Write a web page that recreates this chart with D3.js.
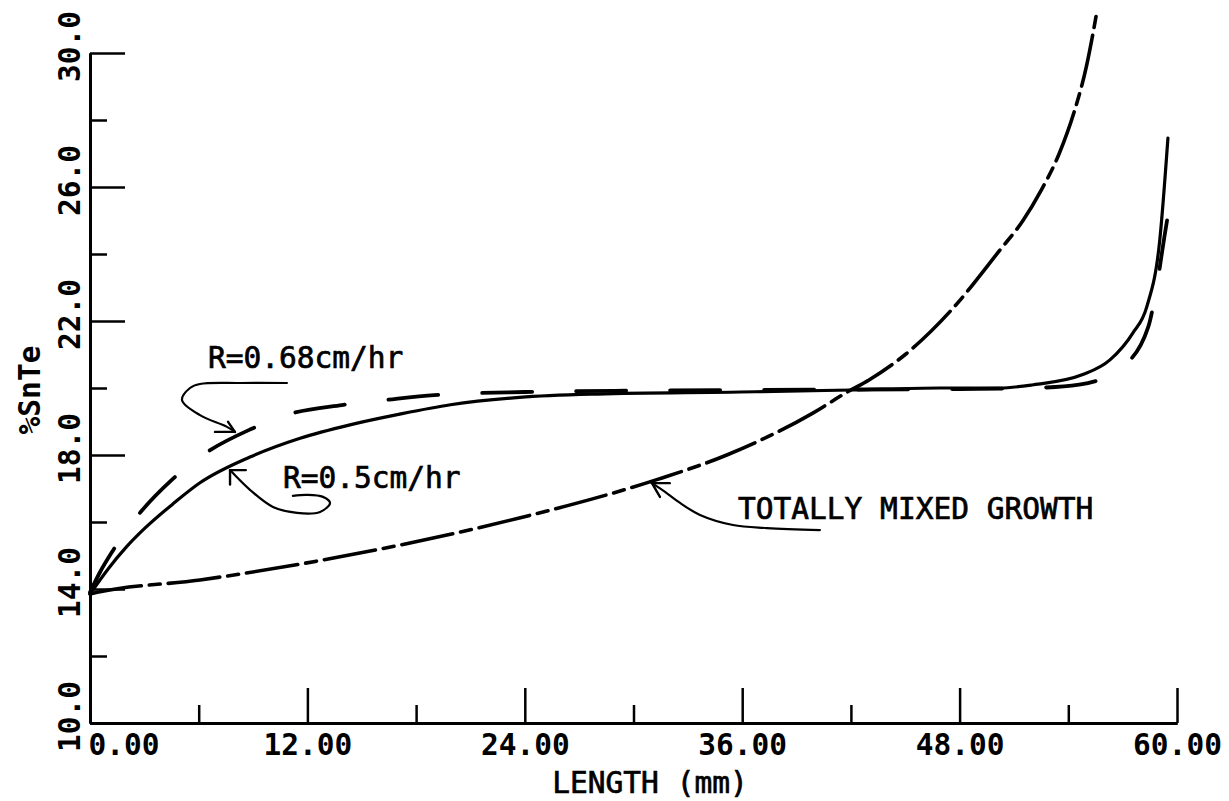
<!DOCTYPE html>
<html><head><meta charset="utf-8">
<script src="https://cdn.jsdelivr.net/npm/d3@7"></script>
<style>
html,body{margin:0;padding:0;background:#fff;}
svg{display:block;background:#fff;}
text{font-family:"DejaVu Sans Mono","Liberation Mono",monospace;fill:#000;font-variant-numeric:slashed-zero;}
</style></head><body>
<svg id="chart" width="1229" height="801"></svg>
<script>
// ---- tick definitions ----
const xMajorTicks = [0, 12, 24, 36, 48, 60];
const xMajorLabels = ["0.00", "12.00", "24.00", "36.00", "48.00", "60.00"];
const xMinorTicks = [6, 18, 30, 42, 54];
const yMajorTicks = [10, 14, 18, 22, 26, 30];
const yMajorLabels = ["10.0", "14.0", "18.0", "22.0", "26.0", "30.0"];
const yMinorTicks = [12, 16, 20, 24, 28];
const xTitle = "LENGTH (mm)";
const yTitle = "%SnTe";

// ---- series: R = 0.5 cm/hr (solid) ----
const lenR05  = [0, 1, 2, 3, 4.6, 6.07, 8.83, 11.6, 14.35, 17.1, 19.9, 23.7, 28, 35.9, 42, 46.9, 50.2, 52.0, 54.8, 56.3, 57.56, 58.33, 59.05, 59.5];
const snteR05 = [13.85, 14.6, 15.25, 15.8, 16.55, 17.17, 17.94, 18.5, 18.9, 19.22, 19.5, 19.72, 19.82, 19.88, 19.94, 20.0, 20.0, 20.09, 20.4, 20.84, 21.64, 22.42, 24.42, 27.46];

// ---- series: R = 0.68 cm/hr (long dashes) ----
const lenR068  = [0, 0.55, 1.27, 2.65, 4.5, 6.5, 8.83, 11.2, 13.9, 16.3, 19.0, 24, 30, 40, 48, 52, 54.6, 56.95, 58.4, 58.9, 59.3, 59.45];
const snteR068 = [13.9, 14.5, 15.15, 16.2, 17.25, 18.1, 18.76, 19.25, 19.49, 19.64, 19.79, 19.88, 19.92, 19.95, 19.97, 20.0, 20.1, 20.63, 21.8, 23.1, 24.5, 25.0];

// ---- series: totally mixed growth (dash-dot) ----
const lenMixed  = [0, 0.4, 6.07, 13.8, 23.7, 31.2, 35.15, 39.9, 41.8, 43.0, 45, 47.5, 50.2, 51.5, 52.5, 53.5, 54.3, 55.0, 55.6];
const snteMixed = [13.85, 13.9, 14.27, 14.96, 16.12, 17.25, 18.0, 19.25, 19.88, 20.24, 21.0, 22.3, 24.1, 25.0, 25.9, 27.0, 28.2, 29.6, 31.3];

// ---- annotations (data coordinates) ----
const annoLabels = ["R=0.68cm/hr", "R=0.5cm/hr", "TOTALLY MIXED GROWTH"];
const annoAt = [[6.51, 20.6], [10.65, 17.01], [35.77, 16.09]];
const arrowR068X = [10.87, 8.28, 6.07, 5.52, 5.08, 6.07, 7.56, 8.0];
const arrowR068Y = [20.15, 20.15, 20.12, 20.0, 19.64, 19.19, 18.84, 18.69];
const barbR068 = [[6.9, 18.69], [7.62, 18.99]];
const arrowR05X = [11.2, 11.98, 12.86, 13.25, 12.7, 11.43, 10.1, 8.83, 7.73];
const arrowR05Y = [16.78, 16.81, 16.75, 16.57, 16.3, 16.27, 16.45, 16.96, 17.55];
const barbR05 = [[7.73, 17.12], [8.6, 17.55]];
const arrowMixX = [40.29, 37.37, 35.49, 33.67, 32.57, 31.74, 31.02];
const arrowMixY = [15.76, 15.82, 15.91, 16.21, 16.57, 16.9, 17.16];
const barbMix = [[32.0, 17.16], [31.46, 16.75]];

// ---- chart ----
const svg = d3.select("#chart");
const x = d3.scaleLinear().domain([0, 60]).range([90, 1177]);
const y = d3.scaleLinear().domain([10, 30]).range([723, 53]);
const FS = 29.5;

function styleAxis(g, w) {
  g.attr("font-family", null).attr("font-size", null);
  g.select(".domain").attr("stroke", "#000").attr("stroke-width", 3);
  g.selectAll(".tick line").attr("stroke", "#000").attr("stroke-width", w);
}

// x axis minor
const gxMinor = svg.append("g").attr("transform", `translate(0,${y(10)})`)
  .call(d3.axisBottom(x).tickValues(xMinorTicks).tickSize(-18).tickSizeOuter(0).tickFormat(""));
styleAxis(gxMinor, 2.5);
// x axis major
const gxMajor = svg.append("g").attr("transform", `translate(0,${y(10)})`)
  .call(d3.axisBottom(x).tickValues(xMajorTicks).tickSize(-35).tickSizeOuter(0).tickPadding(11)
    .tickFormat((d, i) => xMajorLabels[i]));
styleAxis(gxMajor, 2.5);
gxMajor.selectAll(".tick text").attr("font-size", FS).attr("font-weight", "bold")
  .attr("text-anchor", (d, i) => i === 0 ? "start" : "middle")
  .attr("x", (d, i) => i === 0 ? -2 : 0);

// y axis minor
const gyMinor = svg.append("g").attr("transform", `translate(${x(0)},0)`)
  .call(d3.axisLeft(y).tickValues(yMinorTicks).tickSize(-17).tickSizeOuter(0).tickFormat(""));
styleAxis(gyMinor, 2.5);
// y axis major
const gyMajor = svg.append("g").attr("transform", `translate(${x(0)},0)`)
  .call(d3.axisLeft(y).tickValues(yMajorTicks).tickSize(-35).tickSizeOuter(0)
    .tickFormat((d, i) => yMajorLabels[i]));
styleAxis(gyMajor, 2.5);
gyMajor.selectAll(".tick text")
  .attr("x", 0).attr("y", 0).attr("dy", 0)
  .attr("transform", "translate(-10,-7) rotate(-90)")
  .attr("text-anchor", "middle").attr("font-size", FS).attr("font-weight", "bold");

// axis titles
svg.append("text").attr("transform", "translate(40,390) rotate(-90)")
  .attr("text-anchor", "middle").attr("font-size", FS).attr("font-weight", "bold").text(yTitle);
svg.append("text").attr("x", 650).attr("y", 793)
  .attr("text-anchor", "middle").attr("font-size", FS)
  .attr("stroke", "#000").attr("stroke-width", 0.7).text(xTitle);

// curves
function curve(xs, ys, dash, w) {
  const line = d3.line().x(i => x(xs[i])).y(i => y(ys[i])).curve(d3.curveMonotoneX);
  svg.append("path").datum(d3.range(xs.length)).attr("d", line)
    .attr("fill", "none").attr("stroke", "#000").attr("stroke-width", w)
    .attr("stroke-linecap", "round").attr("stroke-dasharray", dash);
}
curve(lenMixed, snteMixed, "52,8,11,8", 3.6);
curve(lenR068, snteR068, "50,44", 3.8);
curve(lenR05, snteR05, null, 3.2);

// annotation arrows
function arrow(xs, ys, barbs) {
  const line = d3.line().x(i => x(xs[i])).y(i => y(ys[i])).curve(d3.curveCatmullRom);
  svg.append("path").datum(d3.range(xs.length)).attr("d", line)
    .attr("fill", "none").attr("stroke", "#000").attr("stroke-width", 2.2).attr("stroke-linecap", "round");
  const tip = [xs[xs.length - 1], ys[ys.length - 1]];
  barbs.forEach(b => {
    svg.append("line").attr("x1", x(tip[0])).attr("y1", y(tip[1])).attr("x2", x(b[0])).attr("y2", y(b[1]))
      .attr("stroke", "#000").attr("stroke-width", 2.4).attr("stroke-linecap", "round");
  });
}
arrow(arrowR068X, arrowR068Y, barbR068);
arrow(arrowR05X, arrowR05Y, barbR05);
arrow(arrowMixX, arrowMixY, barbMix);

// annotation labels
annoLabels.forEach((t, i) => {
  svg.append("text").attr("x", x(annoAt[i][0])).attr("y", y(annoAt[i][1]))
    .attr("font-size", FS).attr("stroke", "#000").attr("stroke-width", 0.7).text(t);
});
</script>
</body></html>
